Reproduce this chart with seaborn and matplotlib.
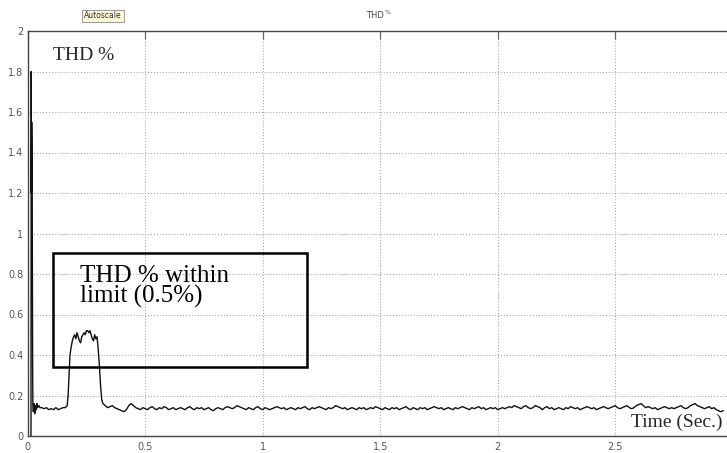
import numpy as np
import pandas as pd
import matplotlib
matplotlib.use("Agg")
import matplotlib.pyplot as plt
import seaborn as sns
from matplotlib.patches import Rectangle

# ---- data ----
early_t = [0.014, 0.015, 0.016, 0.017, 0.018, 0.019, 0.020, 0.021, 0.022, 0.024,
           0.027, 0.030, 0.033, 0.036, 0.039, 0.042, 0.045, 0.048, 0.052, 0.060,
           0.070, 0.080, 0.090, 0.100, 0.110, 0.120, 0.130, 0.140, 0.150, 0.160,
           0.168, 0.172, 0.176, 0.180, 0.185, 0.190, 0.195, 0.200, 0.205, 0.210,
           0.215, 0.220, 0.225, 0.230, 0.235, 0.240, 0.245, 0.250, 0.255, 0.260,
           0.265, 0.270, 0.275, 0.280, 0.285, 0.290, 0.295, 0.300, 0.305, 0.310,
           0.315, 0.320, 0.330, 0.340]
early_v = [0.00, 1.80, 1.20, 1.55, 1.40, 1.27, 0.80, 0.35, 0.15, 0.12,
           0.16, 0.11, 0.15, 0.13, 0.16, 0.14, 0.145, 0.15, 0.14, 0.14,
           0.135, 0.14, 0.13, 0.135, 0.13, 0.14, 0.13, 0.135, 0.14, 0.14,
           0.15, 0.20, 0.30, 0.40, 0.44, 0.47, 0.49, 0.50, 0.48, 0.51,
           0.49, 0.47, 0.46, 0.49, 0.50, 0.51, 0.50, 0.52, 0.52, 0.51,
           0.52, 0.50, 0.48, 0.47, 0.50, 0.48, 0.49, 0.43, 0.35, 0.25,
           0.18, 0.16, 0.15, 0.14]

base_start = 0.35
base_step = 0.01
base_v = [
    0.145, 0.15, 0.14, 0.135, 0.13, 0.125, 0.12, 0.13, 0.15, 0.16,
    0.15, 0.14, 0.135, 0.13, 0.14, 0.135, 0.13, 0.14, 0.145, 0.135,
    0.13, 0.14, 0.135, 0.145, 0.14, 0.13, 0.135, 0.14, 0.13, 0.135,
    0.14, 0.135, 0.13, 0.14, 0.145, 0.135, 0.13, 0.14, 0.135, 0.14,
    0.13, 0.135, 0.14, 0.13, 0.125, 0.135, 0.14, 0.135, 0.13, 0.14,
    0.145, 0.14, 0.135, 0.14, 0.15, 0.145, 0.14, 0.135, 0.13, 0.14,
    0.135, 0.13, 0.14, 0.145, 0.135, 0.13, 0.14, 0.135, 0.13, 0.135,
    0.14, 0.145, 0.14, 0.135, 0.14, 0.13, 0.135, 0.14, 0.135, 0.13,
    0.14, 0.135, 0.14, 0.145, 0.135, 0.13, 0.14, 0.135, 0.14, 0.145,
    0.14, 0.135, 0.13, 0.14, 0.135, 0.14, 0.15, 0.145, 0.14, 0.135,
    0.14, 0.13, 0.135, 0.14, 0.135, 0.13, 0.14, 0.135, 0.14, 0.13,
    0.135, 0.14, 0.135, 0.145, 0.14, 0.135, 0.13, 0.14, 0.135, 0.13,
    0.14, 0.135, 0.14, 0.13, 0.135, 0.14, 0.145, 0.135, 0.13, 0.14,
    0.135, 0.13, 0.14, 0.135, 0.14, 0.13, 0.135, 0.14, 0.145, 0.14,
    0.135, 0.14, 0.13, 0.135, 0.14, 0.135, 0.13, 0.14, 0.135, 0.14,
    0.145, 0.14, 0.135, 0.13, 0.14, 0.135, 0.14, 0.145, 0.135, 0.14,
    0.13, 0.135, 0.14, 0.135, 0.14, 0.13, 0.135, 0.14, 0.135, 0.14,
    0.145, 0.14, 0.15, 0.145, 0.14, 0.135, 0.145, 0.15, 0.14, 0.135,
    0.14, 0.15, 0.145, 0.14, 0.13, 0.14, 0.145, 0.135, 0.14, 0.13,
    0.135, 0.14, 0.135, 0.13, 0.14, 0.135, 0.145, 0.14, 0.135, 0.14,
    0.13, 0.135, 0.14, 0.145, 0.14, 0.135, 0.14, 0.13, 0.135, 0.14,
    0.145, 0.14, 0.135, 0.14, 0.145, 0.15, 0.14, 0.135, 0.14, 0.145,
    0.15, 0.14, 0.135, 0.14, 0.15, 0.155, 0.16, 0.15, 0.14, 0.145,
    0.14, 0.135, 0.14, 0.13, 0.135, 0.14, 0.145, 0.14, 0.135, 0.14,
    0.135, 0.14, 0.145, 0.15, 0.14, 0.135, 0.14, 0.15, 0.155, 0.16,
    0.15, 0.145, 0.14, 0.135, 0.14, 0.145, 0.135, 0.14, 0.13, 0.125,
    0.12, 0.125,
]
base_t = list(base_start + base_step * np.arange(len(base_v)))

x_ticks = [0, 0.5, 1, 1.5, 2, 2.5]
x_tick_labels = ["0", "0.5", "1", "1.5", "2", "2.5"]
y_ticks = [0, 0.2, 0.4, 0.6, 0.8, 1, 1.2, 1.4, 1.6, 1.8, 2]
y_tick_labels = ["0", "0.2", "0.4", "0.6", "0.8", "1", "1.2", "1.4", "1.6", "1.8", "2"]

df = pd.DataFrame({"t": early_t + base_t, "thd": early_v + base_v})

# ---- plot ----
sns.set_style("white")
fig = plt.figure(figsize=(7.27, 4.53), dpi=100)
W, H = 727, 453
left_px, right_px, top_px, bot_px = 27.7, 27.7 + 235 * 3.0, 31, 436
ax = fig.add_axes([left_px / W, (H - bot_px) / H, (right_px - left_px) / W, (bot_px - top_px) / H])

sns.lineplot(data=df, x="t", y="thd", ax=ax, color="#111111", linewidth=1.0,
             estimator=None, sort=False)

ax.set_xlim(0, 3.0)
ax.set_ylim(0, 2)
ax.set_xticks(x_ticks)
ax.set_xticklabels(x_tick_labels)
ax.set_yticks(y_ticks)
ax.set_yticklabels(y_tick_labels)
ax.set_xlabel("")
ax.set_ylabel("")
ax.grid(True, linestyle=(0, (1, 2)), color="#999999", linewidth=0.7)
ax.tick_params(axis="both", direction="in", length=6, width=0.9, color="#666666",
               labelsize=7, labelcolor="#555555", top=True, right=False)
ax.tick_params(axis="x", pad=4)
ax.tick_params(axis="y", pad=3)
for s in ax.spines.values():
    s.set_color("#444444")
    s.set_linewidth(1.0)
    s.set_visible(True)

serif = ["Liberation Serif", "DejaVu Serif"]
ax.add_patch(Rectangle((0.108, 0.34), 1.19 - 0.108, 0.904 - 0.34, fill=False,
                       edgecolor="black", linewidth=1.8, zorder=5))
ax.text(0.222, 0.76, "THD % within", family=serif, fontsize=18,
        va="baseline", ha="left", color="black")
ax.text(0.222, 0.657, "limit (0.5%)", family=serif, fontsize=18,
        va="baseline", ha="left", color="black")
ax.text(0.108, 1.88, "THD %", family=serif, fontsize=14, va="center", ha="left")
ax.text(2.955, 0.065, "Time (Sec.)", family=serif, fontsize=14, va="center", ha="right")

fig.text(375 / W, 1 - 16 / H, "THD", fontsize=6, color="#444444", ha="center", va="center")
fig.text(385 / W, 1 - 13 / H, "%", fontsize=4.5, color="#444444", ha="left", va="center")
fig.text(103 / W, 1 - 16 / H, "Autoscale", fontsize=5.5, color="#333333", ha="center",
         va="center", bbox=dict(boxstyle="square,pad=0.25", facecolor="#fdf8d8",
                                edgecolor="#999999", linewidth=0.7))

fig.savefig("out.png", dpi=100)
